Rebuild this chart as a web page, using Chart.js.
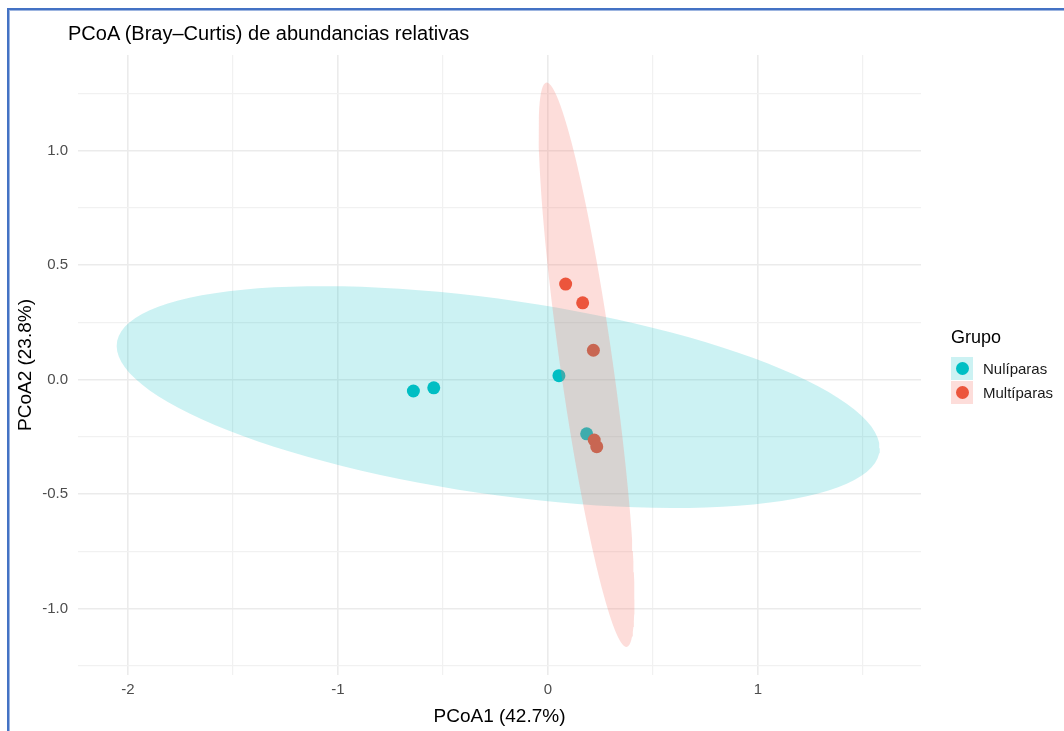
<!DOCTYPE html>
<html>
<head>
<meta charset="utf-8">
<script src="https://cdn.jsdelivr.net/npm/chart.js@4.4.0/dist/chart.umd.min.js"></script>
<style>
  html, body { margin: 0; padding: 0; background: #ffffff; }
  #page { position: relative; width: 1064px; height: 731px; overflow: hidden; background: #fff; }
  #frame { position: absolute; left: 7px; top: 8px; width: 1100px; height: 800px;
           border-left: 2px solid #4472C4; border-top: 2px solid #4472C4;
           box-shadow: inset 1px 1px 0 #9DB5E0; box-sizing: border-box; }
  #chart { position: absolute; left: 0; top: 0; }
  #title { position: absolute; left: 68px; top: 21px; font: 20px "Liberation Sans", Arial, sans-serif;
           color: #000; white-space: nowrap; line-height: 24px; }
  #legend { position: absolute; left: 951px; top: 325px; font-family: "Liberation Sans", Arial, sans-serif; }
  #legend .lt { font-size: 18px; line-height: 24px; color: #000; margin-bottom: 7px; }
  #legend .row { display: flex; align-items: center; height: 24px; }
  #legend .key { width: 22px; height: 23px; position: relative; }
  #legend .dot { position: absolute; left: 4.5px; top: 5px; width: 13px; height: 13px; border-radius: 50%; }
  #legend .lab { font-size: 15px; color: #1a1a1a; margin-left: 10px; }
</style>
</head>
<body>
<div id="page">
  <canvas id="chart" width="1064" height="731"></canvas>
  <div id="frame"></div>
  <div id="title">PCoA (Bray–Curtis) de abundancias relativas</div>
  <div id="legend"></div>
</div>
<script>
// ---- data ----
const groups = ['Nulíparas', 'Multíparas'];
const nuliX  = [-0.641, -0.544, 0.052, 0.184];
const nuliY  = [-0.050, -0.036, 0.017, -0.237];
const multiX = [0.084, 0.165, 0.216, 0.220, 0.232];
const multiY = [0.417, 0.335, 0.128, -0.264, -0.293];
const xTickValues = [-2, -1.5, -1, -0.5, 0, 0.5, 1, 1.5];
const xTickLabels = ['-2', '', '-1', '', '0', '', '1', ''];
const yTickValues = [-1.25, -1, -0.75, -0.5, -0.25, 0, 0.25, 0.5, 0.75, 1, 1.25];
const yTickLabels = ['', '-1.0', '', '-0.5', '', '0.0', '', '0.5', '', '1.0', ''];
const xTitle = 'PCoA1 (42.7%)';
const yTitle = 'PCoA2 (23.8%)';
const legendTitle = 'Grupo';

// ---- styles ----
const cyan = '#00BFC4';
const redPt = '#E84A2C';
const redKeyDot = '#EC553C';
const cyanFill = 'rgba(0,191,196,0.2)';
const redFill = 'rgba(248,118,109,0.25)';
const FONT = '"Liberation Sans", Arial, sans-serif';

// data-ellipse (as ggplot2 stat_ellipse, t-based, level 0.95) computed from the points
function dataEllipse(xs, ys, level, segments) {
  const n = xs.length;
  const mx = xs.reduce((a, b) => a + b, 0) / n;
  const my = ys.reduce((a, b) => a + b, 0) / n;
  let sxx = 0, syy = 0, sxy = 0;
  for (let i = 0; i < n; i++) {
    const dx = xs[i] - mx, dy = ys[i] - my;
    sxx += dx * dx; syy += dy * dy; sxy += dx * dy;
  }
  sxx /= (n - 1); syy /= (n - 1); sxy /= (n - 1);
  const d2 = n - 1;
  const fq = (d2 / 2) * (Math.pow(1 - level, -2 / d2) - 1); // qf(level, 2, n-1)
  const r = Math.sqrt(2 * fq);
  const r11 = Math.sqrt(sxx), r12 = sxy / r11, r22 = Math.sqrt(Math.max(syy - r12 * r12, 0));
  const out = [];
  for (let i = 0; i <= segments; i++) {
    const t = 2 * Math.PI * i / segments;
    const c = Math.cos(t), s = Math.sin(t);
    out.push({ x: mx + r * c * r11, y: my + r * (c * r12 + s * r22) });
  }
  return out;
}

const toPts = (xs, ys) => xs.map((x, i) => ({ x: x, y: ys[i] }));

const ctx = document.getElementById('chart').getContext('2d');
new Chart(ctx, {
  type: 'scatter',
  data: {
    datasets: [
      { label: groups[0] + ' elipse', data: dataEllipse(nuliX, nuliY, 0.95, 120), showLine: true,
        fill: 'shape', backgroundColor: cyanFill, borderColor: 'rgba(0,0,0,0)', borderWidth: 0,
        pointRadius: 0, tension: 0, order: 1 },
      { label: groups[1] + ' elipse', data: dataEllipse(multiX, multiY, 0.95, 120), showLine: true,
        fill: 'shape', backgroundColor: redFill, borderColor: 'rgba(0,0,0,0)', borderWidth: 0,
        pointRadius: 0, tension: 0, order: 0 },
      { label: groups[0], data: toPts(nuliX, nuliY), backgroundColor: cyan, borderWidth: 0,
        pointRadius: 6.5, order: 3 },
      { label: groups[1], data: toPts(multiX, multiY), backgroundColor: redPt, borderWidth: 0,
        pointRadius: 6.5, order: 2 }
    ]
  },
  options: {
    responsive: false,
    animation: false,
    events: [],
    layout: { padding: { left: 0, right: 143, top: 55, bottom: 0 } },
    plugins: { legend: { display: false }, tooltip: { enabled: false }, title: { display: false } },
    scales: {
      x: {
        type: 'linear', min: -2.238, max: 1.776,
        afterBuildTicks: s => { s.ticks = xTickValues.map(v => ({ value: v })); },
        afterFit: s => { s.height = 56; },
        ticks: {
          autoSkip: false, maxRotation: 0, padding: 6, color: '#4D4D4D',
          font: { family: FONT, size: 15 },
          callback: (v, i) => xTickLabels[i]
        },
        grid: {
          drawTicks: false,
          color: ctx => (xTickLabels[ctx.index] ? '#EBEBEB' : '#F1F1F1'),
          lineWidth: ctx => (xTickLabels[ctx.index] ? 1.6 : 1.2)
        },
        border: { display: false },
        title: { display: true, text: xTitle, color: '#000', font: { family: FONT, size: 19 },
                 padding: { top: 0, bottom: 3 } }
      },
      y: {
        type: 'linear', min: -1.290, max: 1.417,
        afterBuildTicks: s => { s.ticks = yTickValues.map(v => ({ value: v })); },
        afterFit: s => { s.width = 78; },
        ticks: {
          autoSkip: false, padding: 10, color: '#4D4D4D',
          font: { family: FONT, size: 15 },
          callback: (v, i) => yTickLabels[i]
        },
        grid: {
          drawTicks: false,
          color: ctx => (yTickLabels[ctx.index] ? '#EBEBEB' : '#F1F1F1'),
          lineWidth: ctx => (yTickLabels[ctx.index] ? 1.6 : 1.2)
        },
        border: { display: false },
        title: { display: true, text: yTitle, color: '#000', font: { family: FONT, size: 19 },
                 padding: { top: 14, bottom: 0 } }
      }
    }
  }
});

// legend (ggplot style: key square with fill and point)
const legend = document.getElementById('legend');
const keyFills = [cyanFill, redFill];
const keyDots = [cyan, redKeyDot];
let html = '<div class="lt">' + legendTitle + '</div>';
groups.forEach((g, i) => {
  html += '<div class="row"><div class="key" style="background:' + keyFills[i] + '">' +
          '<div class="dot" style="background:' + keyDots[i] + '"></div></div>' +
          '<div class="lab">' + g + '</div></div>';
});
legend.innerHTML = html;
</script>
</body>
</html>
